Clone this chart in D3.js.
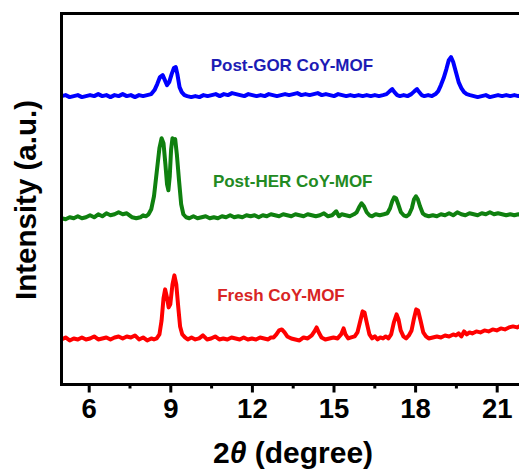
<!DOCTYPE html>
<html>
<head>
<meta charset="utf-8">
<script src="https://cdn.jsdelivr.net/npm/d3@7/dist/d3.min.js"></script>
<style>
  html, body { margin: 0; padding: 0; background: #fff; }
  svg { display: block; }
  text { font-family: "Liberation Sans", Arial, sans-serif; font-weight: bold; }
</style>
</head>
<body>
<svg id="chart" width="519" height="470"></svg>
<script>
// XRD patterns of CoY-MOF: [2θ (degree), intensity (a.u.)]
const freshPattern = [
  [5.0,45],[5.15,47],[5.3,44],[5.45,46],[5.6,45],[5.75,47],[5.9,45],[6.05,46],[6.2,48],[6.35,45],
  [6.5,46],[6.65,47],[6.8,45],[6.95,47],[7.1,48],[7.25,46],[7.4,48],[7.55,47],[7.7,49],[7.85,45],
  [8.0,47],[8.15,44],[8.3,46],[8.4,45],[8.5,46],[8.6,50],[8.68,64],[8.75,86],[8.81,95],[8.87,88],
  [8.94,77],[9.0,80],[9.08,100],[9.15,109],[9.22,100],[9.29,78],[9.36,58],[9.44,50],[9.54,47],[9.64,45],
  [9.78,47],[9.92,45],[10.06,46],[10.2,49],[10.35,45],[10.5,46],[10.65,48],[10.8,45],[10.95,46],[11.1,45],
  [11.25,47],[11.4,46],[11.55,45],[11.7,47],[11.85,45],[12.0,46],[12.15,45],[12.3,47],[12.45,46],[12.6,45],
  [12.7,47],[12.8,47],[12.9,50],[13.0,54],[13.1,55],[13.2,52],[13.3,48],[13.45,46],[13.6,45],[13.75,44],
  [13.9,47],[14.05,46],[14.2,49],[14.3,53],[14.38,57],[14.46,52],[14.56,47],[14.7,45],[14.85,46],[15.0,47],
  [15.15,46],[15.28,50],[15.37,56],[15.44,50],[15.54,46],[15.65,47],[15.78,48],[15.88,52],[15.98,63],[16.07,73],
  [16.14,72],[16.22,62],[16.32,50],[16.42,46],[16.52,48],[16.62,45],[16.72,47],[16.82,46],[16.92,48],[17.02,46],
  [17.12,50],[17.22,62],[17.32,70],[17.39,65],[17.47,54],[17.57,48],[17.67,46],[17.77,49],[17.87,54],[17.96,66],
  [18.04,75],[18.11,74],[18.2,64],[18.3,52],[18.4,48],[18.5,46],[18.65,47],[18.8,48],[18.95,47],[19.1,49],
  [19.25,48],[19.4,50],[19.5,49],[19.6,51],[19.7,48],[19.8,53],[19.9,50],[20.0,52],[20.1,51],[20.25,53],
  [20.4,52],[20.55,54],[20.7,53],[20.85,55],[21.0,54],[21.15,56],[21.3,55],[21.45,57],[21.6,58],[21.75,57],
  [21.9,59]
];

const herPattern = [
  [5.0,46],[5.15,45],[5.3,47],[5.45,46],[5.6,48],[5.75,46],[5.9,47],[6.05,49],[6.2,47],[6.35,50],
  [6.5,48],[6.65,51],[6.8,49],[6.95,50],[7.1,52],[7.25,50],[7.4,51],[7.5,49],[7.6,47],[7.75,46],
  [7.9,47],[8.0,49],[8.1,48],[8.2,50],[8.3,55],[8.4,68],[8.5,92],[8.6,116],[8.68,126],[8.75,121],
  [8.82,100],[8.88,80],[8.93,74],[8.98,88],[9.03,115],[9.08,126],[9.13,122],[9.18,125],[9.24,110],[9.32,84],
  [9.4,60],[9.48,50],[9.58,47],[9.7,46],[9.85,48],[10.0,46],[10.15,47],[10.3,48],[10.45,46],[10.6,47],
  [10.75,46],[10.9,48],[11.05,47],[11.2,49],[11.35,47],[11.5,48],[11.65,47],[11.8,49],[11.95,48],[12.1,49],
  [12.25,47],[12.4,49],[12.55,48],[12.7,50],[12.85,49],[13.0,48],[13.15,50],[13.3,49],[13.45,48],[13.6,50],
  [13.75,49],[13.9,48],[14.05,50],[14.2,49],[14.35,48],[14.5,49],[14.65,51],[14.8,48],[14.95,49],[15.1,53],
  [15.2,48],[15.3,50],[15.45,49],[15.6,48],[15.75,50],[15.85,52],[15.94,57],[16.03,61],[16.12,58],[16.22,52],
  [16.32,49],[16.42,48],[16.55,50],[16.7,49],[16.85,50],[16.98,51],[17.08,56],[17.16,63],[17.23,67],[17.3,66],
  [17.38,60],[17.48,52],[17.58,49],[17.68,48],[17.78,50],[17.88,56],[17.96,65],[18.03,68],[18.1,65],[18.18,58],
  [18.28,51],[18.38,49],[18.5,48],[18.65,49],[18.8,48],[18.95,50],[19.1,49],[19.25,51],[19.4,49],[19.55,52],
  [19.7,50],[19.85,49],[20.0,51],[20.15,50],[20.3,49],[20.45,51],[20.6,50],[20.75,52],[20.9,50],[21.05,51],
  [21.2,50],[21.35,49],[21.5,50],[21.65,49],[21.8,50],[21.9,49]
];

const gorPattern = [
  [5.0,46],[5.15,47],[5.3,45],[5.45,46],[5.6,47],[5.75,45],[5.9,46],[6.05,47],[6.2,46],[6.35,48],
  [6.5,46],[6.65,47],[6.8,45],[6.95,47],[7.1,46],[7.25,48],[7.4,46],[7.55,47],[7.7,45],[7.85,47],
  [8.0,46],[8.15,47],[8.3,48],[8.42,52],[8.52,58],[8.62,65],[8.72,67],[8.8,62],[8.88,57],[8.96,60],
  [9.05,68],[9.13,74],[9.2,75],[9.26,68],[9.34,55],[9.42,50],[9.52,47],[9.62,46],[9.77,45],[9.92,46],
  [10.07,45],[10.22,47],[10.37,46],[10.52,47],[10.67,48],[10.82,46],[10.97,48],[11.12,47],[11.27,49],[11.42,48],
  [11.57,47],[11.72,46],[11.87,48],[12.02,47],[12.17,46],[12.32,47],[12.47,46],[12.62,48],[12.77,47],[12.92,46],
  [13.07,47],[13.22,48],[13.37,47],[13.52,48],[13.67,49],[13.82,47],[13.97,48],[14.12,47],[14.27,48],[14.42,49],
  [14.57,47],[14.72,48],[14.87,47],[15.02,46],[15.17,48],[15.32,47],[15.47,46],[15.62,47],[15.77,46],[15.92,47],
  [16.07,46],[16.22,47],[16.37,46],[16.52,47],[16.67,46],[16.82,47],[16.95,48],[17.07,51],[17.16,53],[17.24,50],
  [17.34,47],[17.44,46],[17.58,47],[17.72,46],[17.86,48],[17.98,51],[18.07,53],[18.15,50],[18.24,47],[18.34,46],
  [18.48,47],[18.62,46],[18.75,48],[18.85,51],[18.95,57],[19.05,64],[19.15,73],[19.24,82],[19.32,85],[19.4,80],
  [19.5,70],[19.6,60],[19.7,54],[19.8,50],[19.9,48],[20.02,47],[20.16,46],[20.3,45],[20.45,46],[20.6,47],
  [20.75,45],[20.9,46],[21.05,47],[21.2,46],[21.35,47],[21.5,46],[21.65,47],[21.8,46],[21.9,47]
];

// Vertical stacking offsets and drawing order
const seriesNames = ["Fresh CoY-MOF", "Post-HER CoY-MOF", "Post-GOR CoY-MOF"];
const seriesData = [freshPattern, herPattern, gorPattern];
const seriesOffsets = [0, 120, 242];
const lineColors = ["#ff0000", "#0f800f", "#0000ff"];
const labelColors = ["#d82424", "#228a22", "#1c1cb4"];
// Label anchor in data coordinates: [2θ, stacked intensity]
const labelAnchors = [[13.07, 83], [13.5, 197], [13.47, 313]];

const majorTicks = [6, 9, 12, 15, 18, 21];
const minorTicks = [7.5, 10.5, 13.5, 16.5, 19.5];

const svg = d3.select("#chart");
const plotLeft = 61.5, plotTop = 13.5, plotBottom = 384.5, plotRight = 523.9;

const x = d3.scaleLinear().domain([5, 22]).range([plotLeft, plotRight]);
const y = d3.scaleLinear().domain([0, 370]).range([plotBottom, plotTop + 0.5]);

svg.append("defs").append("clipPath").attr("id", "plotClip")
  .append("rect").attr("x", plotLeft).attr("y", plotTop)
  .attr("width", plotRight - plotLeft + 40).attr("height", plotBottom - plotTop);

const line = d3.line().curve(d3.curveLinear);

const plot = svg.append("g").attr("clip-path", "url(#plotClip)");
seriesData.forEach((pts, i) => {
  plot.append("path")
    .attr("d", line(pts.map(d => [x(d[0]), y(d[1] + seriesOffsets[i])])))
    .attr("fill", "none")
    .attr("stroke", lineColors[i])
    .attr("stroke-width", 4)
    .attr("stroke-linejoin", "round")
    .attr("stroke-linecap", "round");
});

// Series labels
seriesNames.forEach((name, i) => {
  svg.append("text")
    .attr("x", x(labelAnchors[i][0]))
    .attr("y", y(labelAnchors[i][1]))
    .attr("text-anchor", "middle")
    .attr("font-size", 17)
    .attr("fill", labelColors[i])
    .text(name);
});

// Frame (right edge runs past the visible area)
svg.append("path")
  .attr("d", `M${plotRight + 40},${plotTop} H${plotLeft} V${plotBottom} H${plotRight + 40}`)
  .attr("fill", "none").attr("stroke", "#000").attr("stroke-width", 3);

// X axis ticks
const xAxis = svg.append("g").attr("transform", `translate(0,${plotBottom})`)
  .call(d3.axisBottom(x).tickValues(majorTicks).tickSize(8).tickFormat(d3.format("d")));
xAxis.select(".domain").remove();
xAxis.selectAll(".tick line").attr("stroke", "#000").attr("stroke-width", 3);
xAxis.selectAll(".tick text")
  .attr("font-size", 27.5).attr("fill", "#000")
  .attr("font-family", "'Liberation Sans', Arial, sans-serif").attr("font-weight", "bold")
  .attr("dy", null).attr("y", 33);

const xMinor = svg.append("g").attr("transform", `translate(0,${plotBottom})`)
  .call(d3.axisBottom(x).tickValues(minorTicks).tickSize(4).tickFormat(""));
xMinor.select(".domain").remove();
xMinor.selectAll(".tick line").attr("stroke", "#000").attr("stroke-width", 3);

// Axis titles
const xTitle = svg.append("text")
  .attr("x", 293).attr("y", 463)
  .attr("text-anchor", "middle").attr("font-size", 30).attr("fill", "#000");
xTitle.append("tspan").text("2");
xTitle.append("tspan").attr("font-style", "italic").text("θ");
xTitle.append("tspan").text(" (degree)");

svg.append("text")
  .attr("transform", "translate(36,200) rotate(-90)")
  .attr("text-anchor", "middle").attr("font-size", 29.5).attr("fill", "#000")
  .text("Intensity (a.u.)");
</script>
</body>
</html>
